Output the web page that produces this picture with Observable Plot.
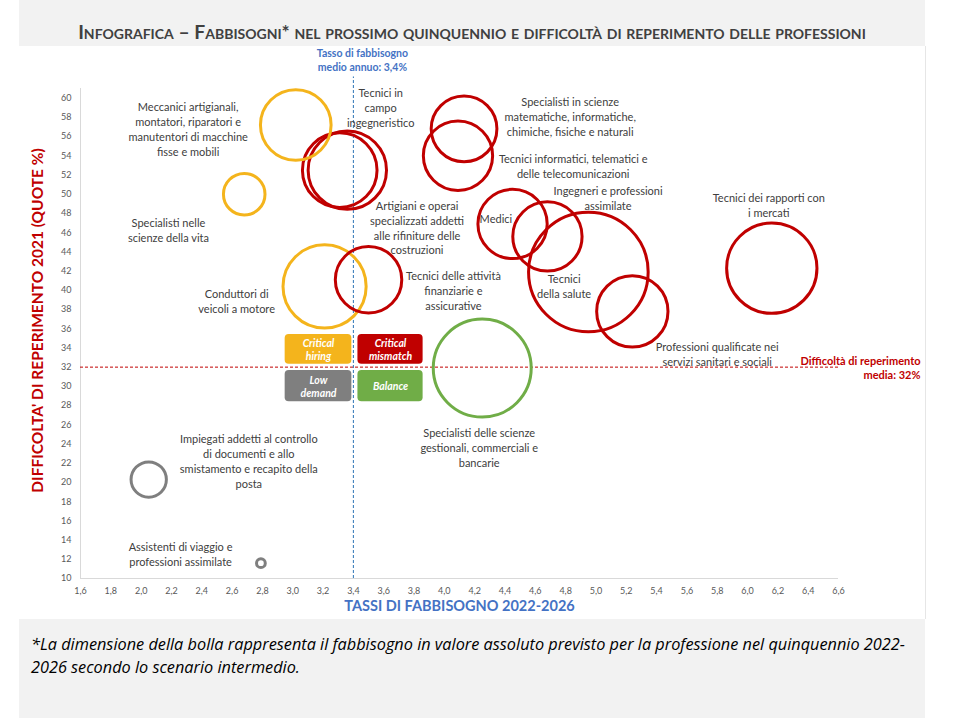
<!DOCTYPE html>
<html><head><meta charset="utf-8">
<script src="https://cdn.jsdelivr.net/npm/d3@7"></script>
<script src="https://cdn.jsdelivr.net/npm/@observablehq/plot@0.6"></script>
<style>
body{margin:0;background:#fff;font-family:Lato,"Open Sans",sans-serif;}
#page{position:relative;width:966px;height:718px;overflow:hidden;}
#title{position:absolute;left:19px;top:0;width:906px;height:46px;background:#f2f2f2;text-align:center;box-sizing:border-box;padding-top:20px;line-height:24px;font-size:19.3px;font-weight:700;font-variant:small-caps;color:#404040;}
#chart{position:absolute;left:19px;top:46px;width:906px;height:573px;border-right:1px solid #e6e6e6;box-sizing:content-box;}
#caption{position:absolute;left:19px;top:619px;width:906px;height:99px;background:#f2f2f2;box-sizing:border-box;padding:14px 0 0 12px;font-family:"Open Sans",Lato,sans-serif;font-style:italic;font-size:16.3px;line-height:23px;color:#000;white-space:nowrap;}
</style></head>
<body><div id="page">
<div id="title">Infografica – Fabbisogni* nel prossimo quinquennio e difficoltà di reperimento delle professioni</div>
<div id="chart"></div>
<div id="caption">*La dimensione della bolla rappresenta il fabbisogno in valore assoluto previsto per la professione nel quinquennio 2022-<br>2026 secondo lo scenario intermedio.</div>
</div>
<script>
// ---- data ----
const professioni = [
  "Meccanici artigianali, montatori, riparatori e manutentori di macchine fisse e mobili",
  "Specialisti nelle scienze della vita",
  "Conduttori di veicoli a motore",
  "Tecnici in campo ingegneristico",
  "Artigiani e operai specializzati addetti alle rifiniture delle costruzioni",
  "Tecnici delle attività finanziarie e assicurative",
  "Specialisti in scienze matematiche, informatiche, chimiche, fisiche e naturali",
  "Tecnici informatici, telematici e delle telecomunicazioni",
  "Medici",
  "Ingegneri e professioni assimilate",
  "Tecnici della salute",
  "Professioni qualificate nei servizi sanitari e sociali",
  "Tecnici dei rapporti con i mercati",
  "Specialisti delle scienze gestionali, commerciali e bancarie",
  "Impiegati addetti al controllo di documenti e allo smistamento e recapito della posta",
  "Assistenti di viaggio e professioni assimilate"
];
const tassoFabbisogno = [3.02, 2.68, 3.21, 3.31, 3.36, 3.50, 4.13, 4.09, 4.45, 4.68, 4.95, 5.24, 6.16, 4.25, 2.05, 2.79];
const difficolta     = [57.2, 50.0, 40.4, 52.5, 52.5, 41.1, 56.8, 54.0, 46.9, 45.6, 41.9, 37.8, 42.3, 31.9, 20.3, 11.6];
const fabbisogno     = [52, 18, 72, 58, 64, 46, 45, 50, 50, 50, 149, 53, 85, 100, 13, 0.8];
const quadrante      = ["Critical hiring","Critical hiring","Critical hiring","Critical mismatch","Critical mismatch","Critical mismatch","Critical mismatch","Critical mismatch","Critical mismatch","Critical mismatch","Critical mismatch","Critical mismatch","Critical mismatch","Balance","Low demand","Low demand"];

const quadranti = ["Critical hiring","Critical mismatch","Low demand","Balance"];
const quadrantiTesto = ["Critical\nhiring","Critical\nmismatch","Low\ndemand","Balance"];
const coloriQuadranti = ["#f4b41c","#c00000","#7f7f7f","#70ad47"];

const tassoMedio = 3.4;
const difficoltaMedia = 32;

const xTicks = d3.range(16, 67, 2).map(d => d / 10);
const yTicks = d3.range(10, 61, 2);

// label texts with anchor in data units
const etichette = [
  "Meccanici artigianali,\nmontatori, riparatori e\nmanutentori di macchine\nfisse e mobili",
  "Specialisti nelle\nscienze della vita",
  "Conduttori di\nveicoli a motore",
  "Tecnici in\ncampo\ningegneristico",
  "Artigiani e operai\nspecializzati addetti\nalle rifiniture delle\ncostruzioni",
  "Tecnici delle attività\nfinanziarie e\nassicurative",
  "Specialisti in scienze\nmatematiche, informatiche,\nchimiche, fisiche e naturali",
  "Tecnici informatici, telematici e\ndelle telecomunicazioni",
  "Medici",
  "Ingegneri e professioni\nassimilate",
  "Tecnici\ndella salute",
  "Professioni qualificate nei\nservizi sanitari e sociali",
  "Tecnici dei rapporti con\ni mercati",
  "Specialisti delle scienze\ngestionali, commerciali e\nbancarie",
  "Impiegati addetti al controllo\ndi documenti e allo\nsmistamento e recapito della\nposta",
  "Assistenti di viaggio e\nprofessioni assimilate"
];
const etichettaX = [2.31, 2.18, 2.63, 3.58, 3.82, 4.06, 4.83, 4.85, 4.34, 5.08, 4.79, 5.80, 6.14, 4.23, 2.71, 2.26];
const etichettaY = [56.8, 46.35, 38.96, 59.06, 46.56, 40.0, 58.1, 53.0, 47.5, 49.6, 40.5, 33.4, 48.9, 23.65, 22.24, 12.55];

// quadrant legend boxes (data units)
const boxX1 = [2.95, 3.43, 2.95, 3.43];
const boxX2 = [3.39, 3.86, 3.39, 3.86];
const boxY1 = [32.3, 32.3, 28.4, 28.4];
const boxY2 = [35.4, 35.4, 31.65, 31.65];

// ---- tables ----
const bolle = professioni.map((p, i) => ({p, x: tassoFabbisogno[i], y: difficolta[i], v: fabbisogno[i], q: quadrante[i]}));
const labels = etichette.map((t, i) => ({t, x: etichettaX[i], y: etichettaY[i]}));
const boxes = quadranti.map((q, i) => ({q, t: quadrantiTesto[i], x1: boxX1[i], x2: boxX2[i], y1: boxY1[i], y2: boxY2[i]}));

const labelFont = "Lato, 'Open Sans', sans-serif";
const fmt = d => d.toFixed(1).replace(".", ",");

const chart = Plot.plot({
  width: 906, height: 573,
  marginLeft: 61, marginRight: 87, marginTop: 42, marginBottom: 41,
  style: {fontFamily: labelFont, background: "transparent", overflow: "visible"},
  x: {domain: [1.6, 6.6]},
  y: {domain: [10, 61]},
  r: {type: "sqrt", domain: [0, 150], range: [0, 60]},
  color: {domain: quadranti, range: coloriQuadranti},
  marks: [
    Plot.ruleX([1.6], {y1: 10, y2: 61, stroke: "#d9d9d9"}),
    Plot.ruleY([10], {x1: 1.6, x2: 6.6, stroke: "#d9d9d9"}),
    Plot.axisY({ticks: yTicks, tickSize: 0, tickPadding: 9, fontSize: 9, fill: "#595959", label: null}),
    Plot.axisX({ticks: xTicks, tickSize: 0, tickPadding: 9, fontSize: 9, fill: "#595959", tickFormat: fmt, label: null}),
    Plot.ruleY([difficoltaMedia], {x1: 1.6, x2: 6.6, stroke: "#c00000", strokeWidth: 1, strokeDasharray: "3,2"}),
    Plot.ruleX([tassoMedio], {y1: 10, y2: 62.2, stroke: "#2e75b6", strokeWidth: 1, strokeDasharray: "3,2"}),
    Plot.rect(boxes, {x1: "x1", x2: "x2", y1: "y1", y2: "y2", fill: "q", rx: 4}),
    Plot.text(boxes, {x: d => (d.x1 + d.x2) / 2, y: d => (d.y1 + d.y2) / 2, text: "t", fill: "white", fontWeight: "bold", fontStyle: "italic", fontSize: 10.5, lineHeight: 1.25}),
    Plot.dot(bolle, {x: "x", y: "y", r: "v", stroke: "q", strokeWidth: 3, fill: "none"}),
    Plot.text(labels, {x: "x", y: "y", text: "t", fill: "#404040", fontSize: 11, lineHeight: 1.36, textAnchor: "middle", lineAnchor: "middle"}),
    Plot.text(["Tasso di fabbisogno\nmedio annuo: 3,4%"], {x: () => tassoMedio, frameAnchor: "top", dy: -29, dx: 9, fill: "#4472c4", fontWeight: "bold", fontSize: 10.5, lineHeight: 1.35, lineAnchor: "middle", textAnchor: "middle"}),
    Plot.text(["Difficoltà di reperimento\nmedia: 32%"], {x: () => 6.6, y: () => difficoltaMedia, dx: 82, textAnchor: "end", lineAnchor: "middle", fill: "#c00000", fontWeight: "bold", fontSize: 11, lineHeight: 1.3}),
    Plot.text(["TASSI DI FABBISOGNO 2022-2026"], {frameAnchor: "bottom", dy: 28, fill: "#4472c4", fontWeight: "bold", fontSize: 14.5, lineAnchor: "middle", textAnchor: "middle"}),
    Plot.text(["DIFFICOLTA' DI REPERIMENTO 2021 (QUOTE %)"], {frameAnchor: "left", dx: -42, dy: -13, rotate: -90, fill: "#c00000", fontWeight: "bold", fontSize: 15.5, lineAnchor: "middle", textAnchor: "middle"})
  ]
});
document.getElementById("chart").appendChild(chart);
</script>
</body></html>
